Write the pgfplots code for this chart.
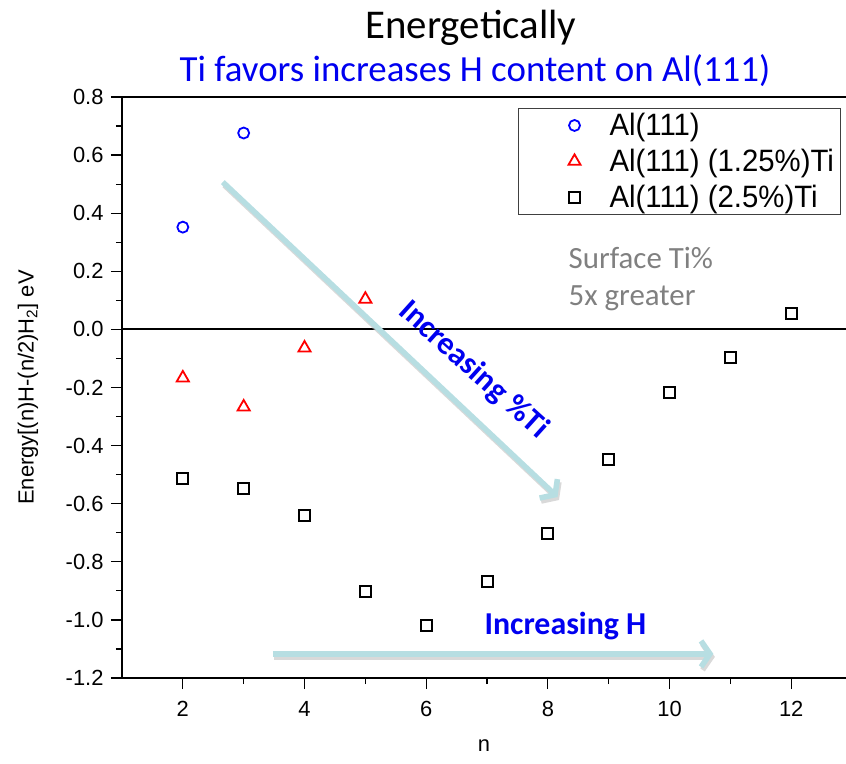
\documentclass[border=0pt]{standalone}
\usepackage{fontspec}
\setmainfont{Liberation Sans}
\newfontfamily\calibri{Carlito}
\newfontfamily\legfont[FakeStretch=0.95]{Liberation Sans}
\usepackage{pgfplots}
\pgfplotsset{compat=1.18}
\usetikzlibrary{arrows.meta}
\definecolor{arrowc}{RGB}{183,222,226}
\definecolor{tblue}{RGB}{0,0,240}
\definecolor{sgray}{RGB}{128,128,128}
\begin{document}
\begin{tikzpicture}
\useasboundingbox (-122bp,-86bp) rectangle (724bp,678bp);
\begin{axis}[
  at={(0,0)}, anchor=south west,
  scale only axis, width=724bp, height=581bp,
  xmin=1, xmax=12.9, ymin=-1.2, ymax=0.8,
  axis lines*=left,
  clip=false,
  xtick={2,4,6,8,10,12}, minor xtick={3,5,7,9,11},
  ytick={-1.2,-1.0,-0.8,-0.6,-0.4,-0.2,0,0.2,0.4,0.6,0.8},
  minor y tick num=1,
  tick align=outside, major tick length=11bp, minor tick length=6bp,
  tick style={black, line width=1.2bp},
  axis line style={line width=1.6bp},
  ticklabel style={font=\fontsize{22}{26}\selectfont},
  /pgf/number format/assume math mode=true,
  yticklabel style={xshift=-4bp, /pgf/number format/.cd, fixed, fixed zerofill, precision=1},
  xticklabel style={yshift=-9bp},
  xlabel={n}, ylabel={Energy[(n)H-(n/2)H\textsubscript{2}] eV},
  label style={font=\fontsize{22}{26}\selectfont},
  x label style={at={(axis description cs:0.5,-0.117)}, anchor=center},
  y label style={at={(axis description cs:-0.1298,0.5)}, anchor=center},
  legend cell align=left,
  legend image code/.code={\path[draw=none,fill=none] (0bp,0bp) -- (58bp,0bp);
    \draw[#1, only marks] plot coordinates {(49bp,0bp)};},
  legend style={at={(axis description cs:0.547,0.981)}, anchor=north west,
    draw=black!75, line width=1bp, font=\legfont\fontsize{31}{34}\selectfont,
    nodes={inner sep=0bp},
    inner xsep=7bp, inner ysep=5bp, row sep=12bp,
    /tikz/every odd column/.append style={column sep=26bp}},
]
\draw[line width=2.5bp] (rel axis cs:0,1) -- (rel axis cs:1,1);
\draw[line width=1.8bp] (axis cs:1,0) -- (axis cs:12.9,0);
\addplot[only marks, mark=o, blue, mark size=5.5bp, line width=1.8bp]
  coordinates {(2,0.352) (3,0.676)};
\addlegendentry{Al(111)}
\addplot[only marks, mark=triangle, red, mark size=7bp, line width=1.8bp]
  coordinates {(2,-0.167) (3,-0.267) (4,-0.064) (5,0.104)};
\addlegendentry{Al(111) (1.25\%)Ti}
\addplot[only marks, mark=square, black, mark size=5.5bp, line width=2bp]
  coordinates {(2,-0.512) (3,-0.546) (4,-0.642) (5,-0.903) (6,-1.020) (7,-0.868)
   (8,-0.704) (9,-0.448) (10,-0.217) (11,-0.098) (12,0.056)};
\addlegendentry{Al(111) (2.5\%)Ti}
% arrows with shadow
\draw[line width=5.5bp, black!25, opacity=0.6, -{Straight Barb[length=9bp,width=26bp]}]
  ([shift={(1.5bp,-3bp)}]axis cs:2.657,0.507) -- ([shift={(1.5bp,-3bp)}]axis cs:8.158,-0.577);
\draw[line width=5.5bp, arrowc, -{Straight Barb[length=9bp,width=26bp]}]
  (axis cs:2.657,0.507) -- (axis cs:8.158,-0.577);
\draw[line width=5.5bp, black!25, opacity=0.6, -{Straight Barb[length=9bp,width=26bp]}]
  ([shift={(1.5bp,-3bp)}]axis cs:3.478,-1.117) -- ([shift={(1.5bp,-3bp)}]axis cs:10.72,-1.117);
\draw[line width=5.5bp, arrowc, -{Straight Barb[length=9bp,width=26bp]}]
  (axis cs:3.478,-1.117) -- (axis cs:10.72,-1.117);
\node[font=\calibri\bfseries\fontsize{32}{36}\selectfont, text=tblue, rotate=-42]
  at (axis cs:6.778,-0.140) {Increasing \%Ti};
\node[font=\calibri\bfseries\fontsize{32}{36}\selectfont, text=tblue]
  at (axis cs:8.289,-1.021) {Increasing H};
\node[font=\calibri\fontsize{31}{36}\selectfont, text=sgray, anchor=base west, inner sep=0pt]
  at (axis cs:8.338,0.211) {Surface Ti\%};
\node[font=\calibri\fontsize{31}{36}\selectfont, text=sgray, anchor=base west, inner sep=0pt]
  at (axis cs:8.338,0.081) {5x greater};
\end{axis}
\node[font=\calibri\fontsize{41}{46}\selectfont, anchor=base, inner sep=0pt] at (349bp,639bp) {Energetically};
\node[font=\calibri\fontsize{37}{42}\selectfont, text=tblue, anchor=base, inner sep=0pt] at (353bp,596bp) {Ti favors increases H content on Al(111)};
\end{tikzpicture}
\end{document}
